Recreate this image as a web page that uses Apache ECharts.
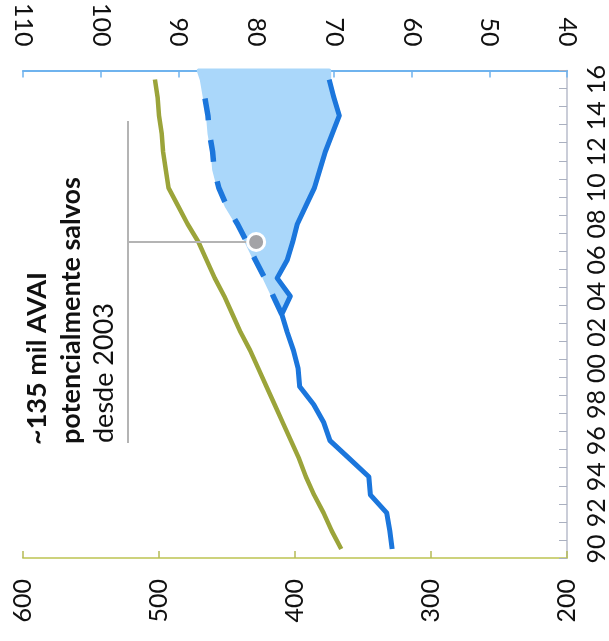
<!DOCTYPE html>
<html>
<head>
<meta charset="utf-8">
<script src="https://cdn.jsdelivr.net/npm/echarts@6/dist/echarts.min.js"></script>
<style>
html,body{margin:0;padding:0;background:#fff;}
#c{width:609px;height:641px;}
</style>
</head>
<body>
<div id="c"></div>
<script>
// Years (category axis, shown vertically, 1990 at bottom)
var years = ['90','91','92','93','94','95','96','97','98','99','00','01','02','03','04','05','06','07','08','09','10','11','12','13','14','15','16'];
// Green series (left/bottom axis 200-600)
var greenValues = [366,373,379,386,392,397,403,409,415,421,427,433,440,446,452,459,465,471,479,486,493,495,497,498,500,501,503];
// Blue solid series (right/top axis 40-110)
var blueValues = [62.5,62.8,63.2,65.3,65.5,68.0,70.5,71.3,72.6,74.4,74.6,75.2,76.0,76.7,75.6,77.3,76.0,75.3,74.7,73.6,72.5,71.8,71.1,70.2,69.3,70.0,70.6];
// Blue dashed series (projection from 2003)
var dashedValues = [null,null,null,null,null,null,null,null,null,null,null,null,null,76.7,77.8,78.9,80.1,81.2,82.4,83.8,84.8,85.4,85.6,86.0,86.2,86.6,87.0];
// Annotation point
var markerPoint = [80, '07'];
var greenTicks = [200, 600, 100];
var blueTicks = [40, 110, 10];
var annotationLines = ['~135 mil AVAI', 'potencialmente salvos', 'desde 2003'];

var FONT = 'Lato';
var chart = echarts.init(document.getElementById('c'), null, {renderer: 'canvas'});

var option = {
  animation: false,
  backgroundColor: '#ffffff',
  grid: {left: 23, right: 39, top: 67, bottom: 83, containLabel: false},
  xAxis: [
    {
      type: 'value', position: 'bottom', inverse: true,
      min: greenTicks[0], max: greenTicks[1], interval: greenTicks[2],
      axisLine: {show: true, lineStyle: {color: '#cdd27c', width: 2}},
      axisTick: {show: true, inside: true, length: 7, lineStyle: {color: '#b5bb55', width: 1.5}},
      splitLine: {show: false},
      axisLabel: {rotate: 90, margin: 21, color: '#111', fontSize: 25, fontFamily: FONT}
    },
    {
      type: 'value', position: 'top', inverse: true,
      min: blueTicks[0], max: blueTicks[1], interval: blueTicks[2],
      axisLine: {show: true, lineStyle: {color: '#6fb3ee', width: 2}},
      axisTick: {show: true, inside: true, length: 7, lineStyle: {color: '#6fb3ee', width: 1.5}},
      splitLine: {show: false},
      axisLabel: {rotate: 90, margin: 24, color: '#111', fontSize: 25, fontFamily: FONT}
    }
  ],
  yAxis: {
    type: 'category', position: 'right', data: years, boundaryGap: true,
    axisLine: {show: true, lineStyle: {color: '#b8bccb', width: 1.5}},
    axisTick: {show: true, inside: true, interval: 0, length: 8, lineStyle: {color: '#aab0c0', width: 1}},
    axisLabel: {interval: 1, rotate: 90, margin: 17, color: '#111', fontSize: 25, fontFamily: FONT},
    splitLine: {show: false}
  },
  series: [
    {
      type: 'custom', xAxisIndex: 1, yAxisIndex: 0, z: 1,
      data: [[0, 0]],
      renderItem: function (params, api) {
        var cs = params.coordSys;
        var pts = [];
        var first = -1, last = -1;
        for (var i = 0; i < years.length; i++) {
          if (dashedValues[i] != null) { if (first < 0) first = i; last = i; }
        }
        for (var i = first; i <= last; i++) pts.push(api.coord([dashedValues[i], i]));
        var topD = api.coord([dashedValues[last], last]);
        var topS = api.coord([blueValues[last], last]);
        pts.push([topD[0] - 3, cs.y]);
        pts.push([topS[0], cs.y]);
        for (var j = last; j >= first; j--) pts.push(api.coord([blueValues[j], j]));
        return {type: 'polygon', shape: {points: pts}, style: {fill: '#aad7fa', stroke: '#aad7fa', lineWidth: 4, lineJoin: 'round'}};
      },
      silent: true
    },
    {
      type: 'line', xAxisIndex: 0, data: greenValues, showSymbol: false, symbol: 'none', z: 3,
      lineStyle: {color: '#9ba43a', width: 4.5}
    },
    {
      type: 'line', xAxisIndex: 1, data: blueValues, showSymbol: false, symbol: 'none', z: 4,
      lineStyle: {color: '#1b76dc', width: 5, join: 'round'}
    },
    {
      type: 'line', xAxisIndex: 1, data: dashedValues, showSymbol: false, symbol: 'none', z: 4,
      connectNulls: false,
      lineStyle: {color: '#1b76dc', width: 5.5, type: [22, 20], cap: 'butt'}
    },
    {
      type: 'scatter', xAxisIndex: 1, data: [markerPoint], z: 6,
      symbol: 'circle', symbolSize: 17,
      itemStyle: {color: '#a3a3a6', borderColor: '#ffffff', borderWidth: 3, opacity: 1}
    }
  ]
};
chart.setOption(option);

// annotation (leader lines + text)
var mp = chart.convertToPixel({xAxisIndex: 1, yAxisIndex: 0}, [markerPoint[0], years.indexOf(markerPoint[1])]);
var lineX = 128, lineTop = 121, lineBottom = 443;
chart.setOption({
  graphic: [
    {type: 'line', z: 5, shape: {x1: lineX, y1: lineTop, x2: lineX, y2: lineBottom}, style: {stroke: '#b4b4b4', lineWidth: 2}},
    {type: 'line', z: 5, shape: {x1: lineX, y1: mp[1], x2: mp[0] - 6, y2: mp[1]}, style: {stroke: '#b4b4b4', lineWidth: 2}},
    {type: 'text', x: 37, y: 445, rotation: Math.PI / 2, style: {text: annotationLines[0], font: 'bold 27px Lato', fill: '#111', align: 'left', verticalAlign: 'middle'}},
    {type: 'text', x: 71, y: 444, rotation: Math.PI / 2, style: {text: annotationLines[1], font: 'bold 27px Lato', fill: '#111', align: 'left', verticalAlign: 'middle'}},
    {type: 'text', x: 104, y: 443, rotation: Math.PI / 2, style: {text: annotationLines[2], font: '27px Lato', fill: '#111', align: 'left', verticalAlign: 'middle'}}
  ]
});
</script>
</body>
</html>
